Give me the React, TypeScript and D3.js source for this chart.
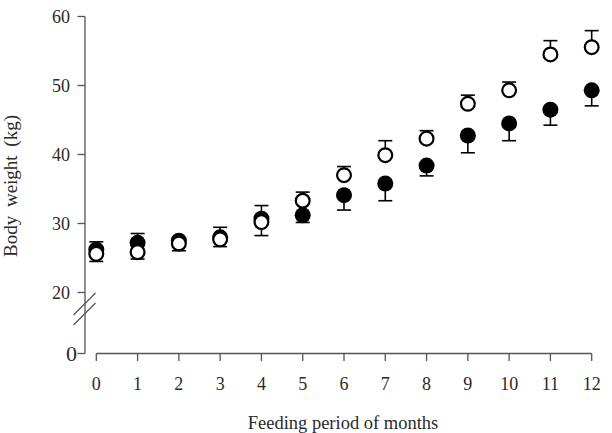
import { scaleLinear } from "d3";

// Monthly body weight, mean and SE, for the two groups
const months = [0, 1, 2, 3, 4, 5, 6, 7, 8, 9, 10, 11, 12];
const openMean = [25.6, 25.85, 27.1, 27.7, 30.2, 33.3, 37.0, 39.9, 42.3, 47.35, 49.3, 54.5, 55.55];
const openSE = [1.75, 2.7, 0.45, 1.75, 2.4, 1.25, 1.25, 2.1, 1.15, 1.25, 1.2, 2.0, 2.4];
const filledMean = [26.2, 27.2, 27.5, 28.0, 30.7, 31.2, 34.1, 35.8, 38.4, 42.75, 44.5, 46.5, 49.3];
const filledSE = [1.7, 2.35, 1.45, 1.35, 2.45, 1.05, 2.15, 2.5, 1.5, 2.5, 2.5, 2.25, 2.25];
const yTicks = [20, 30, 40, 50, 60];

const font = "'Liberation Serif', 'Times New Roman', serif";
const axisColor = "#555";
const textColor = "#2a2a2a";

export default function App() {
  const width = 612;
  const height = 433;
  const axisX = 85;
  const baseY = 353.5;
  const tickLen = 7.5;
  const capHalf = 7;
  const r = 8;

  const x = scaleLinear().domain([0, 12]).range([96.3, 591.7]);
  // broken axis: 0 sits at the baseline, 20–60 is the live range
  const y = scaleLinear().domain([0, 20, 60]).range([baseY, 292.5, 16.5]);

  const breakY = [y(20) + 11.5, y(20) + 21.5];

  return (
    <svg
      width={width}
      height={height}
      viewBox={`0 0 ${width} ${height}`}
      style={{ position: "absolute", left: 0, top: 0, background: "#fff" }}
      fontFamily={font}
    >
      {/* y axis */}
      <line x1={axisX} x2={axisX} y1={y(60)} y2={y(0)} stroke={axisColor} strokeWidth={1.3} />
      {yTicks.map((t) => (
        <g key={t}>
          <line x1={axisX - tickLen} x2={axisX} y1={y(t)} y2={y(t)} stroke={axisColor} strokeWidth={1.3} />
          <text x={axisX - 15} y={y(t)} dy="0.35em" textAnchor="end" fontSize={18} fill={textColor}>
            {t}
          </text>
        </g>
      ))}
      <line x1={axisX - tickLen} x2={axisX} y1={y(0)} y2={y(0)} stroke={axisColor} strokeWidth={1.3} />
      <text x={axisX - 8} y={y(0)} dy="0.33em" textAnchor="end" fontSize={22} fill={textColor}>
        0
      </text>
      {breakY.map((by) => (
        <line
          key={by}
          x1={axisX - 11.5}
          y1={by + 11}
          x2={axisX + 10.5}
          y2={by - 11}
          stroke={axisColor}
          strokeWidth={1.3}
        />
      ))}

      {/* x axis */}
      <line x1={x(0)} x2={x(12)} y1={baseY} y2={baseY} stroke={axisColor} strokeWidth={1.3} />
      {months.map((m) => (
        <g key={m}>
          <line x1={x(m)} x2={x(m)} y1={baseY} y2={baseY + tickLen} stroke={axisColor} strokeWidth={1.3} />
          <text x={x(m)} y={baseY + 30} dy="0.35em" textAnchor="middle" fontSize={18} fill={textColor}>
            {m}
          </text>
        </g>
      ))}

      <text x={343} y={428.5} textAnchor="middle" fontSize={18.5} fill={textColor}>
        Feeding period of months
      </text>
      <text
        transform={`translate(16.5, 186) rotate(-90)`}
        textAnchor="middle"
        fontSize={19}
        wordSpacing={4}
        fill={textColor}
      >
        Body weight (kg)
      </text>

      {/* filled group: lower error bars */}
      {months.map((m, i) => {
        const cy = y(filledMean[i]);
        const ey = y(filledMean[i] - filledSE[i]);
        return (
          <g key={`f${m}`}>
            <line x1={x(m)} x2={x(m)} y1={cy} y2={ey} stroke="#000" strokeWidth={1.6} />
            <line x1={x(m) - capHalf} x2={x(m) + capHalf} y1={ey} y2={ey} stroke="#000" strokeWidth={1.6} />
            <circle cx={x(m)} cy={cy} r={r} fill="#000" />
          </g>
        );
      })}

      {/* open group: upper error bars */}
      {months.map((m, i) => {
        const cy = y(openMean[i]);
        const ey = y(openMean[i] + openSE[i]);
        return (
          <g key={`o${m}`}>
            <line x1={x(m)} x2={x(m)} y1={cy} y2={ey} stroke="#000" strokeWidth={1.6} />
            <line x1={x(m) - capHalf} x2={x(m) + capHalf} y1={ey} y2={ey} stroke="#000" strokeWidth={1.6} />
            <circle cx={x(m)} cy={cy} r={r - 1.1} fill="#fff" stroke="#000" strokeWidth={2.2} />
          </g>
        );
      })}
    </svg>
  );
}
